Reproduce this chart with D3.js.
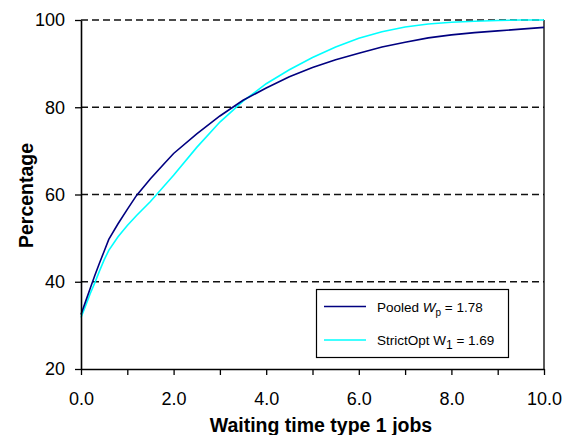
<!DOCTYPE html>
<html>
<head>
<meta charset="utf-8">
<script src="https://cdn.jsdelivr.net/npm/d3@7"></script>
<style>
  html, body { margin: 0; padding: 0; background: #fff; }
  svg { display: block; font-family: "Liberation Sans", Arial, Helvetica, sans-serif; }
</style>
</head>
<body>
<svg id="chart" width="574" height="435"></svg>
<script>
// ---- data ----
const waitTimes = [0, 0.1, 0.2, 0.3, 0.4, 0.5, 0.6, 0.8, 1.0, 1.2, 1.5, 1.8, 2.0, 2.5, 3.0, 3.5, 4.0, 4.5, 5.0, 5.5, 6.0, 6.5, 7.0, 7.5, 8.0, 8.5, 9.0, 9.5, 10.0];
const pooledPct = [32.5, 35.5, 38.5, 41.5, 44.3, 47.0, 49.7, 53.3, 56.6, 59.8, 63.6, 67.1, 69.4, 73.9, 78.0, 81.6, 84.4, 87.0, 89.1, 90.9, 92.4, 93.8, 94.9, 95.9, 96.6, 97.1, 97.5, 97.9, 98.3];
const strictOptPct = [31.8, 34.5, 37.3, 39.8, 42.5, 45.0, 47.2, 50.3, 52.9, 55.2, 58.4, 62.0, 64.4, 70.8, 76.6, 81.4, 85.4, 88.6, 91.4, 93.8, 95.8, 97.3, 98.4, 99.1, 99.5, 99.7, 99.9, 100, 100];
const xTicks = [0, 1, 2, 3, 4, 5, 6, 7, 8, 9, 10];
const yTicks = [20, 40, 60, 80, 100];
const gridValues = [40, 60, 80, 100];
const seriesNames = ["Pooled", "StrictOpt"];
const legendValues = ["1.78", "1.69"];
const xTitle = "Waiting time type 1 jobs";
const yTitle = "Percentage";

// ---- layout ----
const svg = d3.select("#chart");
const pLeft = 81, pRight = 544, pTop = 20, pBottom = 369;
const x = d3.scaleLinear().domain([0, 10]).range([pLeft, pRight]);
const y = d3.scaleLinear().domain([20, 100]).range([pBottom, pTop]);

// gridlines
svg.append("g").selectAll("line").data(gridValues).join("line")
  .attr("x1", pLeft).attr("x2", pRight)
  .attr("y1", d => y(d)).attr("y2", d => y(d))
  .attr("stroke", "#111").attr("stroke-width", 1.3)
  .attr("stroke-dasharray", "7,4");

// right border
svg.append("line")
  .attr("x1", pRight).attr("x2", pRight).attr("y1", pTop).attr("y2", pBottom)
  .attr("stroke", "#000").attr("stroke-width", 1.3);

// lines
const lineGen = ys => d3.line().x((d, i) => x(waitTimes[i])).y(d => y(d))(ys);
svg.append("path").attr("d", lineGen(strictOptPct))
  .attr("fill", "none").attr("stroke", "#00FFFF").attr("stroke-width", 1.6);
svg.append("path").attr("d", lineGen(pooledPct))
  .attr("fill", "none").attr("stroke", "#000080").attr("stroke-width", 1.6);

// axes
const fmt = d3.format(".1f");
const xAxis = svg.append("g").attr("transform", `translate(0,${pBottom})`)
  .call(d3.axisBottom(x).tickValues(xTicks)
    .tickFormat(d => d % 2 === 0 ? fmt(d) : "")
    .tickSizeInner(6).tickSizeOuter(0).tickPadding(17));
const yAxis = svg.append("g").attr("transform", `translate(${pLeft},0)`)
  .call(d3.axisLeft(y).tickValues(yTicks).tickFormat(d3.format("d"))
    .tickSizeInner(6).tickSizeOuter(0).tickPadding(10));
[xAxis, yAxis].forEach(g => {
  g.select(".domain").attr("stroke", "#000").attr("stroke-width", 1.6);
  g.selectAll(".tick line").attr("stroke", "#000").attr("stroke-width", 1.3);
  g.selectAll("text").attr("font-size", 18).attr("fill", "#000")
    .attr("font-family", "'Liberation Sans', Arial, sans-serif");
});

// axis titles
svg.append("text").attr("x", 321).attr("y", 432)
  .attr("text-anchor", "middle").attr("font-weight", "bold").attr("font-size", 19.5)
  .text(xTitle);
svg.append("text").attr("transform", "translate(33,195.5) rotate(-90)")
  .attr("text-anchor", "middle").attr("font-weight", "bold").attr("font-size", 19.5)
  .text(yTitle);

// legend
const lg = svg.append("g");
lg.append("rect").attr("x", 316.5).attr("y", 289.5).attr("width", 192).attr("height", 68)
  .attr("fill", "#fff").attr("stroke", "#000").attr("stroke-width", 1.2);
const legendColors = ["#000080", "#00FFFF"];
const legendY = [306.5, 340];
legendY.forEach((ly, i) => {
  lg.append("line").attr("x1", 324).attr("x2", 366).attr("y1", ly).attr("y2", ly)
    .attr("stroke", legendColors[i]).attr("stroke-width", 1.6);
  const t = lg.append("text").attr("x", 377).attr("y", ly + 5).attr("font-size", 13.5).attr("fill", "#000");
  t.append("tspan").text(seriesNames[i] + " ");
  t.append("tspan").text("W").attr("font-style", i === 0 ? "italic" : "normal");
  t.append("tspan").text(i === 0 ? "p" : "1").attr("font-size", i === 0 ? 10 : 12).attr("dy", 4);
  t.append("tspan").text(" = " + legendValues[i]).attr("dy", -4);
});
</script>
</body>
</html>
